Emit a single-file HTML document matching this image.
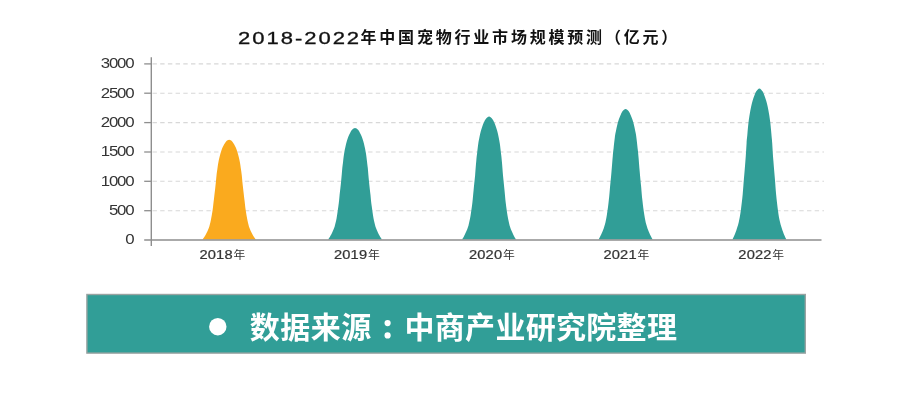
<!DOCTYPE html>
<html lang="zh"><head><meta charset="utf-8"><title>2018-2022年中国宠物行业市场规模预测（亿元）</title>
<style>html,body{margin:0;padding:0;background:#fff;}body{width:900px;height:415px;overflow:hidden;font-family:"Liberation Sans",sans-serif;}svg{display:block}</style>
</head><body>
<svg width="900" height="415" viewBox="0 0 900 415">
<rect width="900" height="415" fill="#fff"/>
<line x1="152.5" x2="824" y1="63.9" y2="63.9" stroke="#d8d8d8" stroke-width="1.1" stroke-dasharray="4.4 3.3"/>
<line x1="152.5" x2="824" y1="93.2" y2="93.2" stroke="#d8d8d8" stroke-width="1.1" stroke-dasharray="4.4 3.3"/>
<line x1="152.5" x2="824" y1="122.6" y2="122.6" stroke="#d8d8d8" stroke-width="1.1" stroke-dasharray="4.4 3.3"/>
<line x1="152.5" x2="824" y1="152" y2="152" stroke="#d8d8d8" stroke-width="1.1" stroke-dasharray="4.4 3.3"/>
<line x1="152.5" x2="824" y1="181.3" y2="181.3" stroke="#d8d8d8" stroke-width="1.1" stroke-dasharray="4.4 3.3"/>
<line x1="152.5" x2="824" y1="210.7" y2="210.7" stroke="#d8d8d8" stroke-width="1.1" stroke-dasharray="4.4 3.3"/>
<path d="M202.5,239.5C202.8,239.1 203.6,238 204.3,237C204.9,236 205.6,235 206.3,233.5C207.1,232 208.1,230.2 208.8,228C209.6,225.9 210.1,223.6 210.8,220.5C211.4,217.5 212.2,213.1 212.7,209.6C213.2,206.1 213.4,203.2 213.9,199.6C214.3,195.9 214.9,191.6 215.3,187.6C215.8,183.6 216.2,178.6 216.5,175.6C216.8,172.6 217,172 217.3,169.6C217.6,167.3 218.1,163.8 218.5,161.7C218.9,159.5 219.2,158.3 219.6,156.7C220,155 220.5,153.2 221,151.7C221.4,150.2 221.9,148.9 222.4,147.7C223,146.4 223.6,145.2 224.2,144.2C224.8,143.2 225.3,142.4 225.9,141.7C226.5,141 227,140.5 227.6,140.2C228.1,139.9 228.6,139.7 229.2,139.7C229.7,139.7 230.2,139.9 230.7,140.2C231.3,140.5 231.8,141 232.4,141.7C233,142.4 233.5,143.2 234.1,144.2C234.7,145.2 235.3,146.4 235.9,147.7C236.4,148.9 236.9,150.2 237.3,151.7C237.8,153.2 238.3,155 238.7,156.7C239.1,158.3 239.4,159.5 239.8,161.7C240.2,163.8 240.7,167.3 241,169.6C241.3,172 241.5,172.6 241.8,175.6C242.1,178.6 242.5,183.6 243,187.6C243.4,191.6 244,195.9 244.4,199.6C244.9,203.2 245.1,206.1 245.6,209.6C246.1,213.1 246.9,217.5 247.5,220.5C248.2,223.6 248.7,225.9 249.5,228C250.2,230.2 251.2,232 252,233.5C252.7,235 253.4,236 254,237C254.7,238 255.5,239.1 255.8,239.5Z" fill="#faaa1e"/>
<path d="M328.2,239.5C328.5,239 329.3,237.8 330,236.7C330.6,235.6 331.3,234.5 332.1,232.8C332.8,231.1 333.8,229.1 334.6,226.7C335.3,224.2 335.9,221.7 336.6,218.3C337.2,214.9 337.9,209.9 338.4,206C339,202.1 339.2,199 339.6,194.9C340.1,190.8 340.7,185.9 341.1,181.5C341.6,177 342,171.4 342.3,168.1C342.7,164.7 342.8,164 343.1,161.4C343.4,158.8 343.9,154.9 344.3,152.5C344.7,150 345,148.7 345.4,146.9C345.8,145 346.3,143 346.8,141.3C347.3,139.6 347.7,138.2 348.3,136.8C348.8,135.4 349.5,134 350.1,132.9C350.7,131.8 351.2,130.9 351.8,130.1C352.3,129.4 352.9,128.8 353.5,128.5C354,128.1 354.5,127.9 355,127.9C355.6,127.9 356.1,128.1 356.6,128.5C357.2,128.8 357.8,129.4 358.3,130.1C358.9,130.9 359.4,131.8 360,132.9C360.6,134 361.3,135.4 361.8,136.8C362.4,138.2 362.8,139.6 363.3,141.3C363.8,143 364.3,145 364.7,146.9C365.1,148.7 365.4,150 365.8,152.5C366.2,154.9 366.7,158.8 367,161.4C367.3,164 367.4,164.7 367.8,168.1C368.1,171.4 368.5,177 369,181.5C369.4,185.9 370,190.8 370.5,194.9C370.9,199 371.1,202.1 371.7,206C372.2,209.9 372.9,214.9 373.5,218.3C374.2,221.7 374.8,224.2 375.5,226.7C376.3,229.1 377.3,231.1 378,232.8C378.8,234.5 379.5,235.6 380.1,236.7C380.8,237.8 381.6,239 381.9,239.5Z" fill="#319e97"/>
<path d="M462.1,239.5C462.4,239 463.2,237.7 463.9,236.4C464.5,235.2 465.2,234 466,232.1C466.8,230.3 467.7,228 468.5,225.4C469.2,222.7 469.8,219.9 470.5,216.1C471.1,212.4 471.9,206.9 472.4,202.6C472.9,198.3 473.1,194.8 473.6,190.3C474,185.8 474.6,180.5 475.1,175.6C475.5,170.7 475.9,164.5 476.3,160.8C476.6,157.2 476.7,156.3 477.1,153.5C477.4,150.6 477.9,146.3 478.3,143.6C478.7,141 479,139.5 479.4,137.5C479.8,135.4 480.3,133.2 480.8,131.3C481.2,129.5 481.7,128 482.3,126.4C482.8,124.9 483.5,123.4 484.1,122.1C484.6,120.9 485.2,119.9 485.8,119.1C486.3,118.2 486.9,117.6 487.5,117.2C488,116.8 488.5,116.6 489.1,116.6C489.6,116.6 490.1,116.8 490.6,117.2C491.2,117.6 491.8,118.2 492.3,119.1C492.9,119.9 493.5,120.9 494,122.1C494.6,123.4 495.3,124.9 495.8,126.4C496.4,128 496.9,129.5 497.3,131.3C497.8,133.2 498.3,135.4 498.7,137.5C499.1,139.5 499.4,141 499.8,143.6C500.2,146.3 500.7,150.6 501,153.5C501.4,156.3 501.5,157.2 501.8,160.8C502.2,164.5 502.6,170.7 503,175.6C503.5,180.5 504.1,185.8 504.5,190.3C505,194.8 505.2,198.3 505.7,202.6C506.2,206.9 507,212.4 507.6,216.1C508.3,219.9 508.9,222.7 509.6,225.4C510.4,228 511.3,230.3 512.1,232.1C512.9,234 513.6,235.2 514.2,236.4C514.9,237.7 515.7,239 516,239.5Z" fill="#319e97"/>
<path d="M598.5,239.5C598.8,239 599.7,237.5 600.3,236.2C601,234.9 601.6,233.6 602.4,231.7C603.2,229.7 604.2,227.3 604.9,224.5C605.7,221.7 606.3,218.7 606.9,214.7C607.6,210.7 608.3,204.9 608.8,200.3C609.4,195.8 609.6,192.1 610,187.3C610.5,182.5 611.1,176.9 611.5,171.6C612,166.4 612.4,159.9 612.8,156C613.1,152.1 613.2,151.2 613.6,148.2C613.9,145.1 614.4,140.5 614.8,137.7C615.1,134.9 615.4,133.4 615.9,131.2C616.3,129 616.8,126.6 617.3,124.7C617.8,122.7 618.2,121.1 618.8,119.4C619.3,117.8 620,116.2 620.6,114.9C621.2,113.6 621.7,112.5 622.3,111.6C622.9,110.7 623.4,110.1 624,109.7C624.5,109.2 625.1,109 625.6,109C626.1,109 626.7,109.2 627.2,109.7C627.8,110.1 628.3,110.7 628.9,111.6C629.5,112.5 630,113.6 630.6,114.9C631.2,116.2 631.9,117.8 632.4,119.4C633,121.1 633.4,122.7 633.9,124.7C634.4,126.6 634.9,129 635.3,131.2C635.8,133.4 636.1,134.9 636.4,137.7C636.8,140.5 637.3,145.1 637.6,148.2C638,151.2 638.1,152.1 638.4,156C638.8,159.9 639.2,166.4 639.7,171.6C640.1,176.9 640.7,182.5 641.2,187.3C641.6,192.1 641.8,195.8 642.4,200.3C642.9,204.9 643.6,210.7 644.3,214.7C644.9,218.7 645.5,221.7 646.3,224.5C647,227.3 648,229.7 648.8,231.7C649.6,233.6 650.2,234.9 650.9,236.2C651.5,237.5 652.4,239 652.7,239.5Z" fill="#319e97"/>
<path d="M732.4,239.5C732.7,238.9 733.5,237.2 734.2,235.7C734.8,234.2 735.5,232.7 736.3,230.4C737.1,228.2 738,225.4 738.8,222.1C739.5,218.9 740.1,215.5 740.8,210.8C741.4,206.2 742.2,199.5 742.7,194.2C743.2,188.9 743.4,184.7 743.9,179.1C744.4,173.6 744.9,167.1 745.4,161C745.9,155 746.3,147.5 746.6,142.9C746.9,138.4 747.1,137.4 747.4,133.9C747.7,130.3 748.2,125.1 748.6,121.8C749,118.5 749.3,116.8 749.7,114.3C750.1,111.7 750.6,109 751.1,106.7C751.6,104.4 752.1,102.6 752.6,100.7C753.1,98.8 753.8,96.9 754.4,95.4C755,93.9 755.5,92.6 756.1,91.6C756.7,90.6 757.2,89.9 757.8,89.4C758.3,88.9 758.9,88.6 759.4,88.6C759.9,88.6 760.5,88.9 761,89.4C761.5,89.9 762.1,90.6 762.7,91.6C763.3,92.6 763.8,93.9 764.4,95.4C765,96.9 765.6,98.8 766.2,100.7C766.7,102.6 767.2,104.4 767.7,106.7C768.2,109 768.7,111.7 769.1,114.3C769.5,116.8 769.8,118.5 770.2,121.8C770.6,125.1 771.1,130.3 771.4,133.9C771.7,137.4 771.9,138.4 772.2,142.9C772.5,147.5 772.9,155 773.4,161C773.9,167.1 774.4,173.6 774.9,179.1C775.4,184.7 775.6,188.9 776.1,194.2C776.6,199.5 777.4,206.2 778,210.8C778.6,215.5 779.2,218.9 780,222.1C780.8,225.4 781.7,228.2 782.5,230.4C783.3,232.7 784,234.2 784.6,235.7C785.2,237.2 786.1,238.9 786.4,239.5Z" fill="#319e97"/>
<line x1="151.3" x2="151.3" y1="57.2" y2="246" stroke="#8e8e8e" stroke-width="1.4"/>
<line x1="144.2" x2="821.5" y1="240" y2="240" stroke="#8e8e8e" stroke-width="1.5"/>
<line x1="144.2" x2="151.3" y1="63.9" y2="63.9" stroke="#8e8e8e" stroke-width="1.3"/>
<line x1="144.2" x2="151.3" y1="93.2" y2="93.2" stroke="#8e8e8e" stroke-width="1.3"/>
<line x1="144.2" x2="151.3" y1="122.6" y2="122.6" stroke="#8e8e8e" stroke-width="1.3"/>
<line x1="144.2" x2="151.3" y1="152" y2="152" stroke="#8e8e8e" stroke-width="1.3"/>
<line x1="144.2" x2="151.3" y1="181.3" y2="181.3" stroke="#8e8e8e" stroke-width="1.3"/>
<line x1="144.2" x2="151.3" y1="210.7" y2="210.7" stroke="#8e8e8e" stroke-width="1.3"/>
<g font-family="Liberation Sans, sans-serif" fill="#333" opacity="0.996">
<text transform="translate(133.3,68.2) scale(1.17,1)" font-size="14.4" style="letter-spacing:-1.05px" text-anchor="end">3000</text>
<text transform="translate(133.3,97.5) scale(1.17,1)" font-size="14.4" style="letter-spacing:-1.05px" text-anchor="end">2500</text>
<text transform="translate(133.3,126.9) scale(1.17,1)" font-size="14.4" style="letter-spacing:-1.05px" text-anchor="end">2000</text>
<text transform="translate(133.3,156.3) scale(1.17,1)" font-size="14.4" style="letter-spacing:-1.05px" text-anchor="end">1500</text>
<text transform="translate(133.3,185.6) scale(1.17,1)" font-size="14.4" style="letter-spacing:-1.05px" text-anchor="end">1000</text>
<text transform="translate(133.3,215) scale(1.17,1)" font-size="14.4" style="letter-spacing:-1.05px" text-anchor="end">500</text>
<text transform="translate(133.3,244.3) scale(1.17,1)" font-size="14.4" style="letter-spacing:-1.05px" text-anchor="end">0</text>
<text transform="translate(199.4,258.8) scale(1.12,1)" font-size="13.1" style="letter-spacing:0.16px" text-anchor="start" stroke="#333" stroke-width="0.25">2018</text>
<text transform="translate(333.9,258.8) scale(1.12,1)" font-size="13.1" style="letter-spacing:0.16px" text-anchor="start" stroke="#333" stroke-width="0.25">2019</text>
<text transform="translate(468.9,258.8) scale(1.12,1)" font-size="13.1" style="letter-spacing:0.16px" text-anchor="start" stroke="#333" stroke-width="0.25">2020</text>
<text transform="translate(603.4,258.8) scale(1.12,1)" font-size="13.1" style="letter-spacing:0.16px" text-anchor="start" stroke="#333" stroke-width="0.25">2021</text>
<text transform="translate(738.3,258.8) scale(1.12,1)" font-size="13.1" style="letter-spacing:0.16px" text-anchor="start" stroke="#333" stroke-width="0.25">2022</text>
<text transform="translate(238,43.9) scale(1.33,1)" font-size="16.6" style="letter-spacing:1.47px" text-anchor="start" fill="#111" stroke="#111" stroke-width="0.3">2018-2022</text>
</g>
<g font-family="'Liberation Sans', 'Noto Sans CJK SC', sans-serif" font-size="11.8" fill="#333">
<text x="233.4" y="258.8">年</text>
<text x="367.9" y="258.8">年</text>
<text x="502.9" y="258.8">年</text>
<text x="637.4" y="258.8">年</text>
<text x="772.3" y="258.8">年</text>
</g>
<text x="360.5" y="43.4" font-family="'Liberation Sans', 'Noto Sans CJK SC', sans-serif" font-size="16" font-weight="bold" fill="#111" style="letter-spacing:2.8px">年中国宠物行业市场规模预测（亿元）</text>
<rect x="86.9" y="294.5" width="718.4" height="58.6" fill="#319e97" stroke="#9aa3a2" stroke-width="1.4"/>
<circle cx="217.8" cy="326.7" r="8.7" fill="#fff"/>
<g font-family="'Liberation Sans', 'Noto Sans CJK SC', sans-serif" font-size="30" font-weight="bold" fill="#fff">
<text x="249.8" y="338" style="letter-spacing:0.5px">数据来源</text>
<text x="404.5" y="338" style="letter-spacing:0.3px">中商产业研究院整理</text>
</g>
<circle cx="387.6" cy="323.1" r="3.1" fill="#fff"/><circle cx="387.6" cy="335.4" r="3.1" fill="#fff"/>
</svg>
</body></html>
